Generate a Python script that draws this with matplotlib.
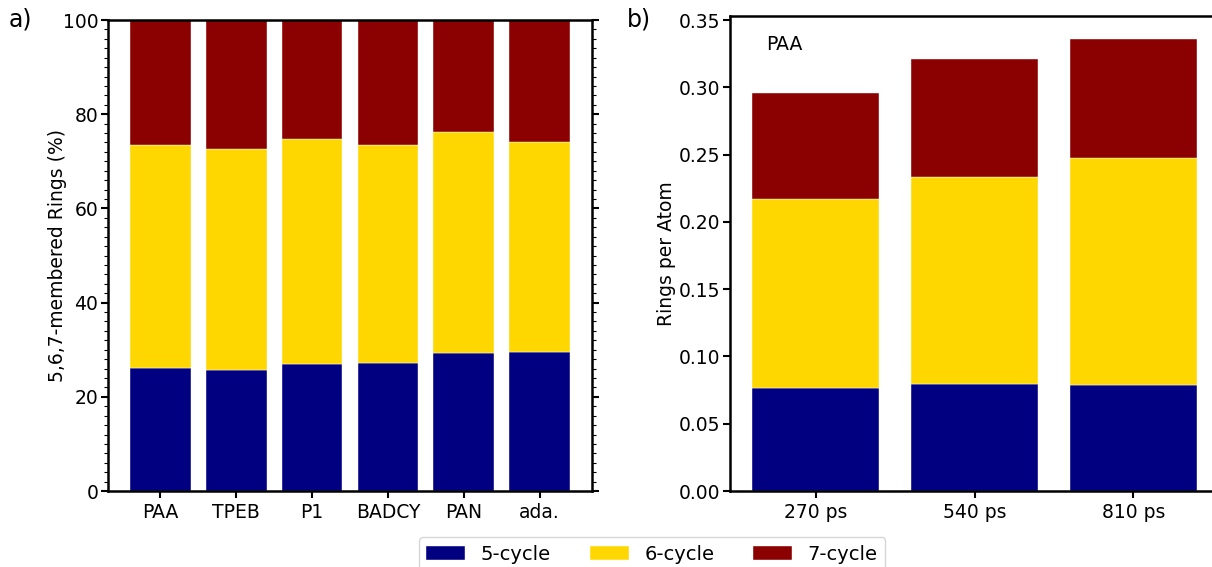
import numpy as np
import matplotlib.pyplot as plt
from matplotlib.ticker import MultipleLocator

# ring statistics per precursor (%), stacked 5/6/7
precursors = ['PAA', 'TPEB', 'P1', 'BADCY', 'PAN', 'ada.']
five_pct = [26.1, 25.7, 26.9, 27.1, 29.4, 29.6]
six_pct = [47.4, 46.9, 47.8, 46.4, 46.8, 44.5]
seven_pct = [26.5, 27.4, 25.3, 26.5, 23.8, 25.9]

# PAA rings per atom over simulation time
times = ['270 ps', '540 ps', '810 ps']
five_rpa = [0.0768, 0.0792, 0.0790]
six_rpa = [0.1401, 0.1545, 0.1683]
seven_rpa = [0.0788, 0.0877, 0.0885]

labels = ['5-cycle', '6-cycle', '7-cycle']
colors = ['#000080', '#FFD700', '#8B0000']

plt.rcParams['font.size'] = 13.5

fig = plt.figure(figsize=(12.12, 5.67), dpi=100)
ax1 = fig.add_axes([0.0891, 0.134, 0.3993, 0.8307])
ax2 = fig.add_axes([0.6023, 0.134, 0.4035, 0.8378])

def stacked(ax, names, series):
    x = np.arange(len(names))
    bottom = np.zeros(len(names))
    bars = []
    for vals, c, lab in zip(series, colors, labels):
        b = ax.bar(x, vals, 0.8, bottom=bottom, color=c, label=lab,
                   edgecolor='white', linewidth=0.3)
        bars.append(b)
        bottom = bottom + np.array(vals)
    ax.set_xticks(x)
    ax.set_xticklabels(names)
    return bars

bars = stacked(ax1, precursors, [five_pct, six_pct, seven_pct])
ax1.set_ylim(0, 100)
ax1.set_ylabel('5,6,7-membered Rings (%)', labelpad=-3)
ax1.yaxis.set_major_locator(MultipleLocator(20))
ax1.yaxis.set_minor_locator(MultipleLocator(2))
ax1.tick_params(axis='y', which='both', direction='out', left=True, right=True)
ax1.tick_params(axis='y', which='major', length=5, width=1.5, pad=2)
ax1.tick_params(axis='y', which='minor', length=3, width=0.8)
ax1.tick_params(axis='x', length=5, width=1.5)

stacked(ax2, times, [five_rpa, six_rpa, seven_rpa])
ax2.set_ylim(0, 0.353)
ax2.set_ylabel('Rings per Atom', labelpad=2)
ax2.yaxis.set_major_locator(MultipleLocator(0.05))
ax2.yaxis.set_major_formatter(plt.FormatStrFormatter('%.2f'))
ax2.tick_params(axis='both', direction='out', length=5, width=1.5)
ax2.tick_params(axis='y', pad=2)
ax2.text(0.074, 0.94, 'PAA', transform=ax2.transAxes, ha='left', va='center')

for ax in (ax1, ax2):
    for s in ax.spines.values():
        s.set_linewidth(1.8)

fig.text(0.007, 0.965, 'a)', fontsize=17, va='center')
fig.text(0.517, 0.965, 'b)', fontsize=17, va='center')

fig.legend(bars, labels, loc='upper center', bbox_to_anchor=(0.538, 0.053),
           borderaxespad=0, ncol=3, handlelength=2.0, columnspacing=2.0,
           fontsize=14)

fig.savefig('out.png', dpi=100)
